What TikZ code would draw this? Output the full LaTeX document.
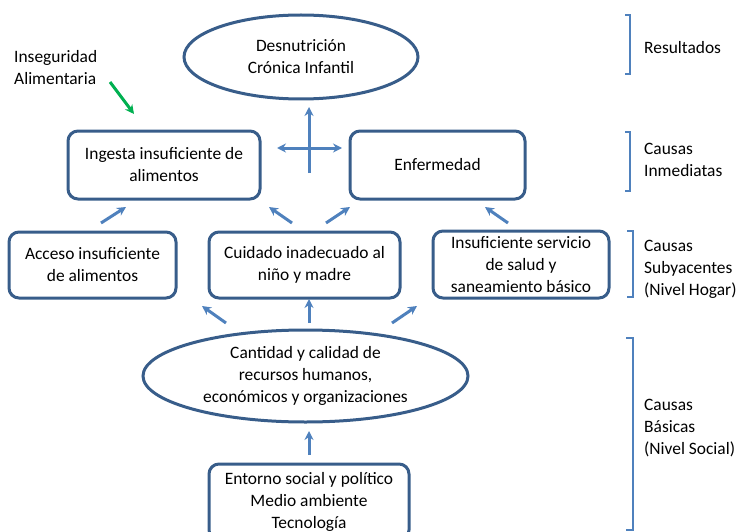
\documentclass[tikz,border=0pt]{standalone}
\usepackage{fontspec}
\setmainfont{Carlito}
\usetikzlibrary{arrows.meta,shapes.geometric}
\definecolor{azulcaja}{HTML}{385D8A}
\definecolor{azulflecha}{HTML}{4F81BD}
\definecolor{verde}{HTML}{00B050}

\begin{document}
\begin{tikzpicture}[x=1pt,y=-1pt,>={Stealth[length=9pt,width=9pt,inset=3pt]},
    caja/.style={draw=azulcaja,line width=3pt,rounded corners=10pt,align=center,inner sep=0pt},
    ovalo/.style={draw=azulcaja,line width=3pt,ellipse,align=center,inner sep=0pt},
    flecha/.style={->,draw=azulflecha,line width=3pt},
    nivel/.style={draw=azulflecha,line width=2.5pt},
    etiqueta/.style={anchor=west,align=left,inner sep=0pt},
    every node/.style={font=\fontsize{17.4}{22}\selectfont}]
    \clip (0,0) rectangle (738,532);

    \node[ovalo,minimum width=234pt,minimum height=84pt] (desnutricion) at (301,57) {Desnutrición\\Crónica Infantil};

    \node[caja,minimum width=192pt,minimum height=68pt] (ingesta) at (164,165) {Ingesta insuficiente de\\alimentos};
    \node[caja,minimum width=175pt,minimum height=68pt] (enfermedad) at (437.5,165) {Enfermedad};

    \node[caja,minimum width=167pt,minimum height=66pt] (acceso) at (92.5,265) {Acceso insuficiente\\de alimentos};
    \node[caja,minimum width=191pt,minimum height=66pt] (cuidado) at (304.5,265) {Cuidado inadecuado al\\niño y madre};
    \node[caja,minimum width=176pt,minimum height=67pt] (servicio) at (521,264.5) {Insuficiente servicio\\de salud y\\saneamiento básico};

    \node[ovalo,minimum width=325pt,minimum height=92pt] (recursos) at (305.5,376) {Cantidad y calidad de\\recursos humanos,\\económicos y organizaciones};

    \node[caja,minimum width=200pt,minimum height=76pt] (entorno) at (309,502) {Entorno social y político\\Medio ambiente\\Tecnología};

    \node[etiqueta] (inseguridad) at (14,67.5) {Inseguridad\\Alimentaria};

    \node[etiqueta] (resultados) at (644,48) {Resultados};
    \node[etiqueta] (inmediatas) at (644,159.5) {Causas\\Inmediatas};
    \node[etiqueta] (subyacentes) at (644,269.5) {Causas\\Subyacentes\\(Nivel Hogar)};
    \node[etiqueta] (basicas) at (644,428) {Causas\\Básicas\\(Nivel Social)};

    \draw[nivel] (625,15) -- (630,15) -- (630,74) -- (625,74);
    \draw[nivel] (625,132) -- (630,132) -- (630,191) -- (625,191);
    \draw[nivel] (627,231) -- (633,231) -- (633,297) -- (627,297);
    \draw[nivel] (626,338) -- (633,338) -- (633,530) -- (626,530);

    \coordinate (I) at (110,82);
    \coordinate (I') at (134,114);

    \coordinate (V) at (309,173);
    \coordinate (V') at (309,107);
    \coordinate (H) at (277,148);
    \coordinate (H') at (342,148);

    \coordinate (A) at (101,223);
    \coordinate (A') at (126,207);
    \coordinate (C) at (292,223);
    \coordinate (C') at (269,207);
    \coordinate (D) at (326,223);
    \coordinate (D') at (350,207);
    \coordinate (S) at (508,223);
    \coordinate (S') at (485,207);

    \coordinate (R) at (226,323);
    \coordinate (R') at (202,306);
    \coordinate (M) at (309,323);
    \coordinate (M') at (309,299);
    \coordinate (T) at (392,323);
    \coordinate (T') at (417,306);

    \coordinate (E) at (309,455);
    \coordinate (E') at (309,431);

    \draw[flecha,draw=verde] (I)--(I');

    \draw[flecha] (V)--(V');
    \draw[flecha,<->] (H)--(H');

    \draw[flecha] (A)--(A');
    \draw[flecha] (C)--(C');
    \draw[flecha] (D)--(D');
    \draw[flecha] (S)--(S');

    \draw[flecha] (R)--(R');
    \draw[flecha] (M)--(M');
    \draw[flecha] (T)--(T');

    \draw[flecha] (E)--(E');
\end{tikzpicture}
\end{document}
